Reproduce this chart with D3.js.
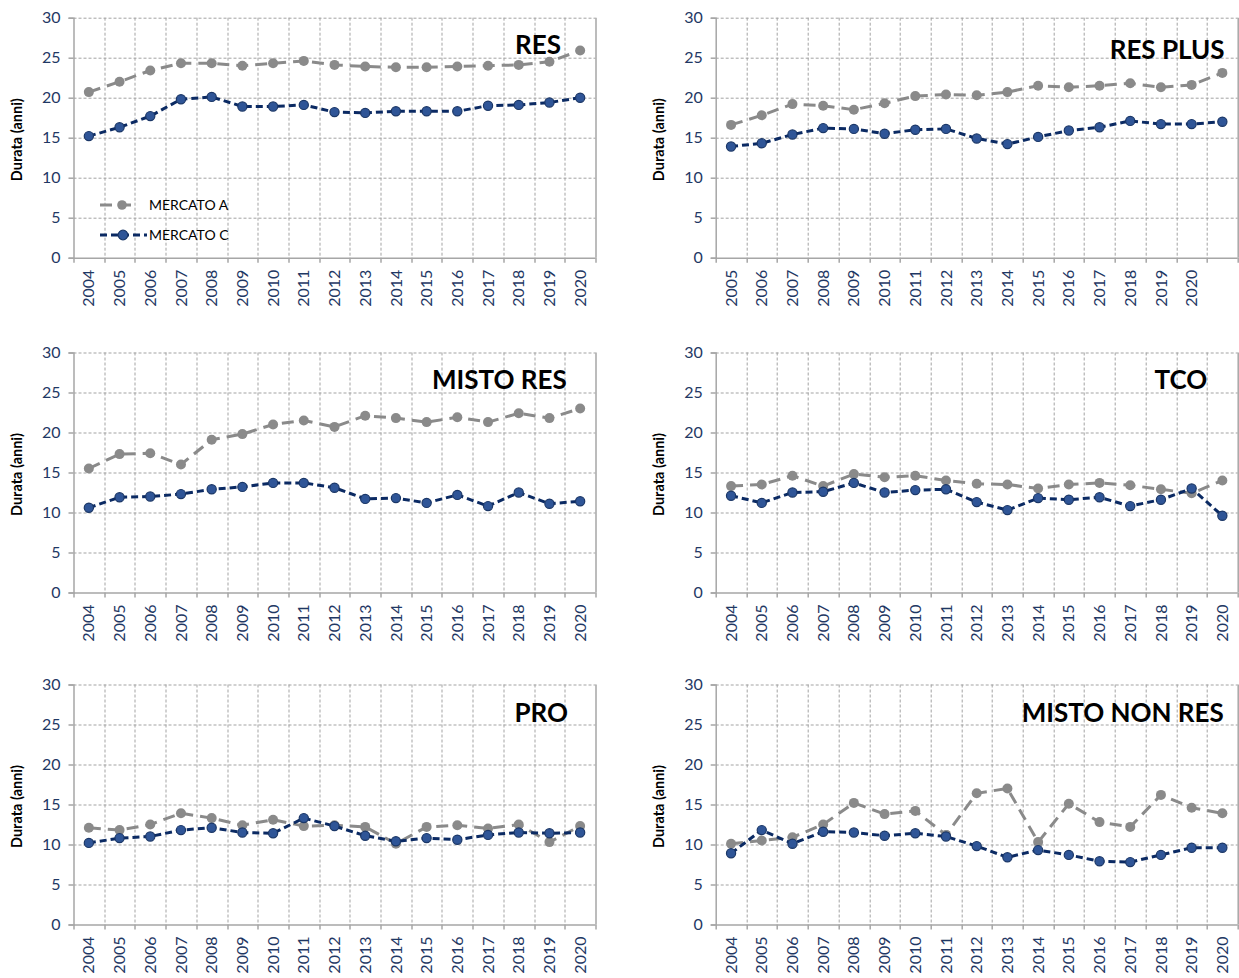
<!DOCTYPE html>
<html>
<head>
<meta charset="utf-8">
<script src="https://cdn.jsdelivr.net/npm/d3@7"></script>
<style>
  html, body { margin: 0; padding: 0; background: #fff; }
  svg { display: block; }
  text { font-family: Lato, "Noto Sans", sans-serif; }
</style>
</head>
<body>
<svg id="chart" width="1239" height="978"></svg>
<script>
// ---------------- DATA ----------------
const years = ["2004","2005","2006","2007","2008","2009","2010","2011","2012","2013","2014","2015","2016","2017","2018","2019","2020"];
const yearsResPlus = ["2005","2006","2007","2008","2009","2010","2011","2012","2013","2014","2015","2016","2017","2018","2019","2020",""];
const yTicks = [0, 5, 10, 15, 20, 25, 30];
const seriesNames = ["MERCATO A", "MERCATO C"];

const resA = [20.7,22.0,23.4,24.3,24.3,24.0,24.3,24.6,24.1,23.9,23.8,23.8,23.9,24.0,24.1,24.5,25.9];
const resC = [15.2,16.3,17.7,19.8,20.1,18.9,18.9,19.1,18.2,18.1,18.3,18.3,18.3,19.0,19.1,19.4,20.0];

const resPlusA = [16.6,17.8,19.2,19.0,18.5,19.3,20.2,20.4,20.3,20.7,21.5,21.3,21.5,21.8,21.3,21.6,23.1];
const resPlusC = [13.9,14.3,15.4,16.2,16.1,15.5,16.0,16.1,14.9,14.2,15.1,15.9,16.3,17.1,16.7,16.7,17.0];

const mistoResA = [15.5,17.3,17.4,16.0,19.1,19.8,21.0,21.5,20.7,22.1,21.8,21.3,21.9,21.3,22.4,21.8,23.0];
const mistoResC = [10.6,11.9,12.0,12.3,12.9,13.2,13.7,13.7,13.1,11.7,11.8,11.2,12.2,10.8,12.5,11.1,11.4];

const tcoA = [13.3,13.5,14.6,13.3,14.8,14.4,14.6,14.0,13.6,13.5,13.0,13.5,13.7,13.4,12.9,12.4,14.0];
const tcoC = [12.1,11.2,12.5,12.6,13.7,12.5,12.8,12.9,11.3,10.3,11.8,11.6,11.9,10.8,11.6,13.0,9.6];

const proA = [12.1,11.8,12.5,13.9,13.3,12.4,13.1,12.3,12.4,12.2,10.1,12.2,12.4,12.0,12.5,10.3,12.3];
const proC = [10.2,10.8,11.0,11.8,12.1,11.5,11.4,13.3,12.3,11.1,10.4,10.8,10.6,11.2,11.5,11.4,11.5];

const mistoNonResA = [10.1,10.5,10.9,12.5,15.2,13.8,14.2,11.2,16.4,17.0,10.3,15.1,12.8,12.2,16.2,14.6,13.9];
const mistoNonResC = [8.9,11.8,10.1,11.6,11.5,11.1,11.4,11.0,9.8,8.4,9.3,8.7,7.9,7.8,8.7,9.6,9.6];

const panelTitles = ["RES","RES PLUS","MISTO RES","TCO","PRO","MISTO NON RES"];

// ---------------- LAYOUT ----------------
const panels = [
  { title: panelTitles[0], cats: years,         a: resA,         c: resC,         left: 73.5,  top: 17.7,  legend: true },
  { title: panelTitles[1], cats: yearsResPlus,  a: resPlusA,     c: resPlusC,     left: 715.7, top: 17.7 },
  { title: panelTitles[2], cats: years,         a: mistoResA,    c: mistoResC,    left: 73.5,  top: 352.5 },
  { title: panelTitles[3], cats: years,         a: tcoA,         c: tcoC,         left: 715.7, top: 352.5 },
  { title: panelTitles[4], cats: years,         a: proA,         c: proC,         left: 73.5,  top: 684.5 },
  { title: panelTitles[5], cats: years,         a: mistoNonResA, c: mistoNonResC, left: 715.7, top: 684.5 }
];
const W = 522, H = 240;
const titleRight = [561, 1224.6, 566.8, 1207.2, 568, 1223.8];
const titleBase = [53.5, 58.5, 389, 389, 722, 722];

const AXIS = "#a6a6a6", GRID = "#a3a3a3", NAVY = "#1f3864";
const GRAY_LINE = "#8a8a8a", BLUE_LINE = "#0b2a63", BLUE_FILL = "#2f5597", BLUE_STROKE = "#1b3767";

const svg = d3.select("#chart");

panels.forEach((p, i) => {
  const g = svg.append("g").attr("transform", `translate(${p.left},${p.top})`);
  const x = d3.scaleBand().domain(p.cats).range([0, W]);
  const y = d3.scaleLinear().domain([0, 30]).range([H, 0]);

  // horizontal gridlines
  g.append("g").selectAll("line").data(yTicks.filter(v => v > 0)).join("line")
    .attr("x1", 0).attr("x2", W)
    .attr("y1", d => Math.round(y(d)) + 0.5).attr("y2", d => Math.round(y(d)) + 0.5)
    .attr("stroke", GRID).attr("stroke-width", 1).attr("stroke-dasharray", "3,2");

  // vertical gridlines at category boundaries
  const bounds = p.cats.map(c => x(c)).concat([x.range()[1]]);
  g.append("g").selectAll("line").data(bounds.slice(1, -1)).join("line")
    .attr("x1", d => Math.round(d) + 0.5).attr("x2", d => Math.round(d) + 0.5)
    .attr("y1", 0).attr("y2", H)
    .attr("stroke", GRID).attr("stroke-width", 1).attr("stroke-dasharray", "3,2");

  // right border
  g.append("line").attr("x1", W + 0.5).attr("x2", W + 0.5).attr("y1", 0).attr("y2", H)
    .attr("stroke", AXIS).attr("stroke-width", 1.5);

  // x tick marks at boundaries
  g.append("g").selectAll("line").data(bounds).join("line")
    .attr("x1", d => Math.round(d) + 0.5).attr("x2", d => Math.round(d) + 0.5)
    .attr("y1", H).attr("y2", H + 5)
    .attr("stroke", AXIS).attr("stroke-width", 1.5);

  // y axis
  const ya = g.append("g").call(d3.axisLeft(y).tickValues(yTicks).tickSize(5).tickPadding(8));
  ya.select(".domain").attr("stroke", AXIS).attr("stroke-width", 1.5);
  ya.selectAll(".tick line").attr("stroke", AXIS).attr("stroke-width", 1.5);
  ya.selectAll(".tick text").attr("fill", NAVY).style("font-size", "16px").style("font-family", "Lato, sans-serif");

  // x axis
  const xa = g.append("g").attr("transform", `translate(0,${H})`).call(d3.axisBottom(x).tickSize(0).tickPadding(0));
  xa.select(".domain").attr("stroke", AXIS).attr("stroke-width", 1.5).attr("d", `M0,0.5H${W}`);
  xa.selectAll(".tick text")
    .attr("fill", NAVY).style("font-size", "16px").style("font-family", "Lato, sans-serif")
    .attr("transform", "rotate(-90)")
    .attr("text-anchor", "end").attr("dy", "0.35em").attr("x", -12).attr("y", 0);

  // y axis title
  g.append("text").attr("transform", `translate(-56.5,${H / 2 + 2}) rotate(-90)`)
    .attr("text-anchor", "middle").attr("dy", "0.35em")
    .style("font-size", "14.5px").style("font-weight", "bold").attr("fill", "#000")
    .text("Durata (anni)");

  // series
  const line = d3.line().x((d, k) => x(p.cats[k]) + x.bandwidth() / 2).y(d => y(d));
  g.append("path").datum(p.a).attr("d", line).attr("fill", "none")
    .attr("stroke", GRAY_LINE).attr("stroke-width", 3).attr("stroke-dasharray", "12,7");
  g.append("g").selectAll("circle").data(p.a).join("circle")
    .attr("cx", (d, k) => x(p.cats[k]) + x.bandwidth() / 2).attr("cy", d => y(d)).attr("r", 5)
    .attr("fill", GRAY_LINE);

  g.append("path").datum(p.c).attr("d", line).attr("fill", "none")
    .attr("stroke", BLUE_LINE).attr("stroke-width", 3).attr("stroke-dasharray", "7,4");
  g.append("g").selectAll("circle").data(p.c).join("circle")
    .attr("cx", (d, k) => x(p.cats[k]) + x.bandwidth() / 2).attr("cy", d => y(d)).attr("r", 4.6)
    .attr("fill", BLUE_FILL).attr("stroke", BLUE_STROKE).attr("stroke-width", 1.2);

  // title
  svg.append("text").attr("x", titleRight[i]).attr("y", titleBase[i])
    .attr("text-anchor", "end").style("font-size", "26px").style("font-weight", "bold")
    .attr("fill", "#000").text(p.title);

  // legend
  if (p.legend) {
    const lg = svg.append("g");
    const items = [
      { name: seriesNames[0], y: 205, x1: 100, x2: 137, mx: 122, stroke: GRAY_LINE, dash: "12,7", fill: GRAY_LINE, mstroke: "none" },
      { name: seriesNames[1], y: 235, x1: 100, x2: 147, mx: 123, stroke: BLUE_LINE, dash: "7,4", fill: BLUE_FILL, mstroke: BLUE_STROKE }
    ];
    items.forEach(it => {
      lg.append("line").attr("x1", it.x1).attr("x2", it.x2).attr("y1", it.y).attr("y2", it.y)
        .attr("stroke", it.stroke).attr("stroke-width", 3).attr("stroke-dasharray", it.dash);
      lg.append("circle").attr("cx", it.mx).attr("cy", it.y).attr("r", 4.8)
        .attr("fill", it.fill).attr("stroke", it.mstroke).attr("stroke-width", 1.2);
      lg.append("text").attr("x", 149).attr("y", it.y).attr("dy", "0.35em")
        .style("font-size", "14px").attr("fill", "#000").text(it.name);
    });
  }
});
</script>
</body>
</html>
